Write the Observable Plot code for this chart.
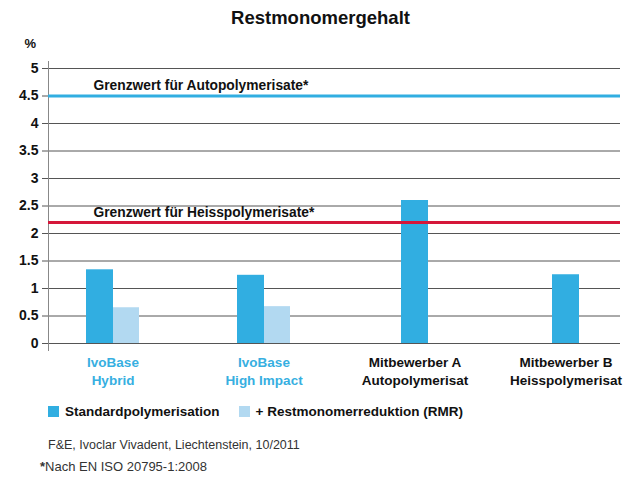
<!DOCTYPE html>
<html><head><meta charset="utf-8">
<script src="https://cdn.jsdelivr.net/npm/d3@7"></script>
<script src="https://cdn.jsdelivr.net/npm/@observablehq/plot@0.6"></script>
<style>
body{margin:0;width:623px;height:479px;position:relative;background:#fff;overflow:hidden;
 font-family:"Liberation Sans Narrow","Liberation Sans",sans-serif;color:#111;}
#title{position:absolute;left:0;top:7px;width:641px;text-align:center;font-weight:bold;font-size:18.5px;z-index:2;}
#chart{position:absolute;left:0;top:0;}
#legend{position:absolute;left:48px;top:404px;font-weight:bold;font-size:13.5px;display:flex;align-items:center;}
#legend .sw{display:inline-block;width:11px;height:11px;margin-right:6px;}
#legend .item{display:flex;align-items:center;margin-right:19px;}
#cap1{position:absolute;left:48px;top:438px;font-size:12.5px;color:#333;}
#cap2{position:absolute;left:40px;top:459px;font-size:13px;color:#333;}
</style></head>
<body>
<div id="chart"></div>
<div id="title"></div>
<div id="legend"></div>
<div id="cap1"></div>
<div id="cap2"></div>
<script>
const title = "Restmonomergehalt";
const categories = ["IvoBase Hybrid", "IvoBase High Impact", "Mitbewerber A Autopolymerisat", "Mitbewerber B Heisspolymerisat"];
const categoryLines = ["IvoBase\nHybrid", "IvoBase\nHigh Impact", "Mitbewerber A\nAutopolymerisat", "Mitbewerber B\nHeisspolymerisat"];
const standardValues = [1.34, 1.24, 2.6, 1.25];
const rmrValues = [0.65, 0.67, null, null];
const limitValues = [4.5, 2.2];
const limitLabels = ["Grenzwert für Autopolymerisate*", "Grenzwert für Heisspolymerisate*"];
const yTicks = [0, 0.5, 1, 1.5, 2, 2.5, 3, 3.5, 4, 4.5, 5];
const yUnit = "%";
const seriesNames = ["Standardpolymerisation", "+ Restmonomerreduktion (RMR)"];
const caption1 = "F&E, Ivoclar Vivadent, Liechtenstein, 10/2011";
const caption2 = "Nach EN ISO 20795-1:2008";

const C_STD = "#31aee1", C_RMR = "#b2d9f1", C_RED = "#d5173a", C_LBL = "#37afe1";

const rows = categories.map((c, i) => ({cat: c, label: categoryLines[i], std: standardValues[i], rmr: rmrValues[i], own: i < 2}));
const paired = rows.filter(d => d.rmr != null);
const single = rows.filter(d => d.rmr == null);
const limits = limitValues.map((v, i) => ({v, label: limitLabels[i]}));

const font = '"Liberation Sans Narrow","Liberation Sans",sans-serif';

const plot = Plot.plot({
  width: 623,
  height: 400,
  marginLeft: 48,
  marginRight: 3,
  marginTop: 68,
  marginBottom: 57,
  style: {fontFamily: font, background: "transparent"},
  x: {domain: categories, range: [37.5, 641.5], paddingInner: 0.649, paddingOuter: 0.3245, align: 0.5, axis: null},
  y: {domain: [0, 5], axis: null},
  marks: [
    Plot.gridY(yTicks, {stroke: "#555", strokeOpacity: 1, strokeWidth: 1}),
    Plot.axisY(yTicks, {tickSize: 6, tickPadding: 4, stroke: "#555", fontSize: 14, fontWeight: "bold", fill: "#111", tickFormat: d => String(d), label: null}),
    Plot.frame({anchor: "left", stroke: "#888", insetTop: -7, insetBottom: -7}),
    Plot.barY(paired, {x: "cat", y: "std", fill: C_STD, insetRight: 26}),
    Plot.barY(paired, {x: "cat", y: "rmr", fill: C_RMR, insetLeft: 27}),
    Plot.barY(single, {x: "cat", y: "std", fill: C_STD, insetLeft: 13, insetRight: 13}),
    Plot.ruleY(limits.slice(0, 1), {y: "v", stroke: C_STD, strokeWidth: 3}),
    Plot.ruleY(limits.slice(1), {y: "v", stroke: C_RED, strokeWidth: 3}),
    Plot.text(limits, {y: "v", text: "label", frameAnchor: "left", textAnchor: "start", dx: 45, dy: -10, fontSize: 13.8, fontWeight: "bold", fill: "#111"}),
    Plot.text(rows.filter(d => d.own), {x: "cat", text: "label", frameAnchor: "bottom", lineAnchor: "top", dy: 11, lineHeight: 1.3, fontSize: 13.5, fontWeight: "bold", fill: C_LBL}),
    Plot.text(rows.filter(d => !d.own), {x: "cat", text: "label", frameAnchor: "bottom", lineAnchor: "top", dy: 11, lineHeight: 1.3, fontSize: 13.5, fontWeight: "bold", fill: "#111"}),
    Plot.text([yUnit], {frameAnchor: "top-left", text: d => d, dx: -24, dy: -30, fontSize: 13, fontWeight: "bold", fill: "#111"})
  ]
});
document.getElementById("chart").appendChild(plot);
document.getElementById("title").textContent = title;
const lg = document.getElementById("legend");
[C_STD, C_RMR].forEach((c, i) => {
  const it = document.createElement("span"); it.className = "item";
  const sw = document.createElement("span"); sw.className = "sw"; sw.style.background = c;
  it.appendChild(sw); it.appendChild(document.createTextNode(seriesNames[i]));
  lg.appendChild(it);
});
document.getElementById("cap1").textContent = caption1;
const c2 = document.getElementById("cap2");
const b = document.createElement("b"); b.textContent = "*"; c2.appendChild(b);
c2.appendChild(document.createTextNode(caption2));
</script>
</body></html>
